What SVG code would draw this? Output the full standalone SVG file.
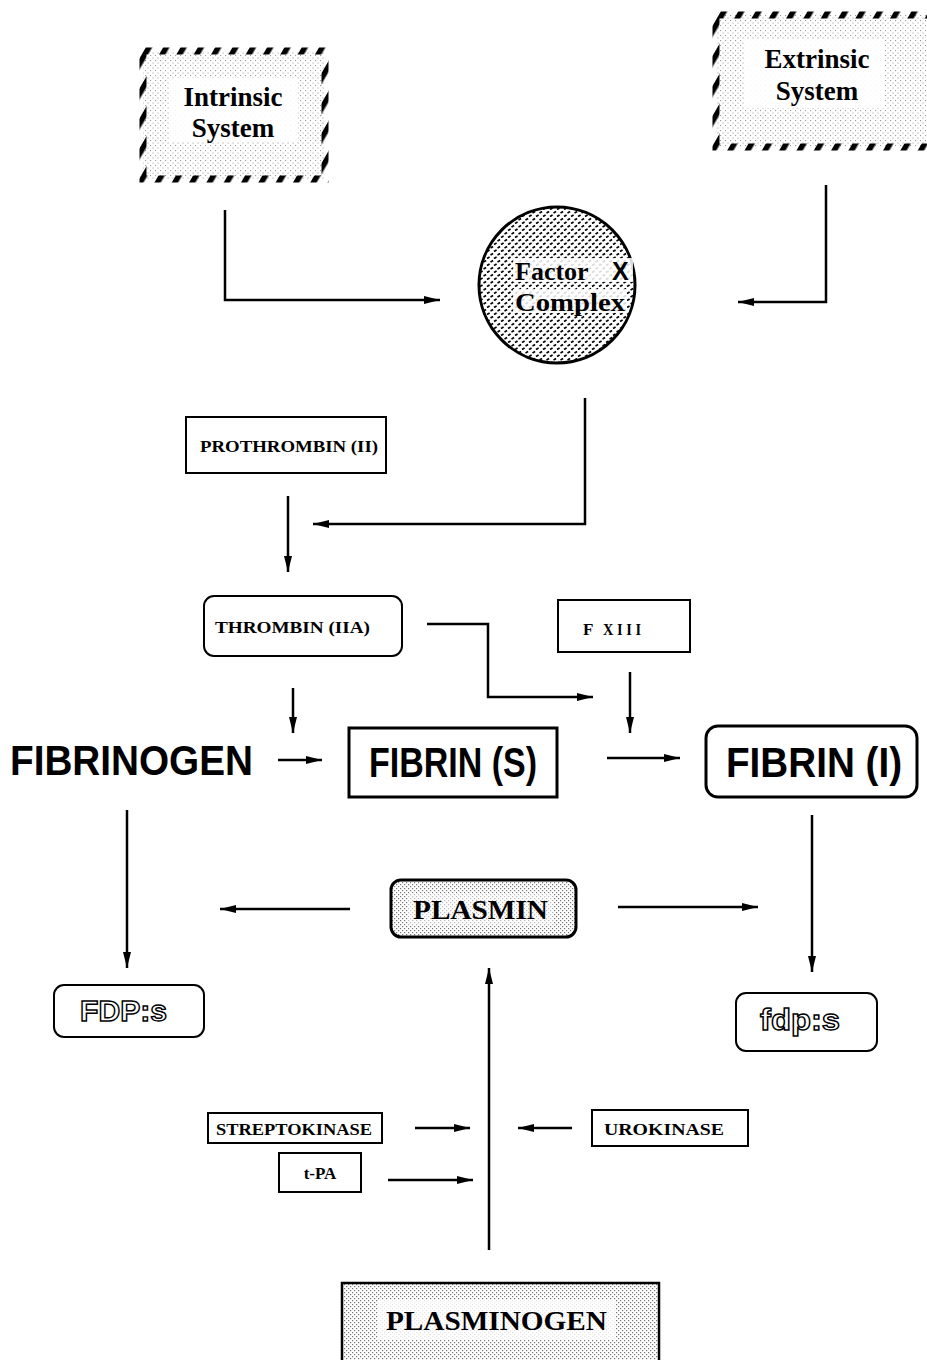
<svg xmlns="http://www.w3.org/2000/svg" width="927" height="1360" viewBox="0 0 927 1360">
<defs>
  <pattern id="dots" width="4" height="4" patternUnits="userSpaceOnUse">
    <rect width="4" height="4" fill="#fff"/>
    <rect x="0" y="0" width="1.2" height="1.2" fill="#777"/>
    <rect x="2" y="2" width="1.2" height="1.2" fill="#777"/>
  </pattern>
  <pattern id="lightdots" width="5" height="5" patternUnits="userSpaceOnUse">
    <rect width="5" height="5" fill="#fff"/>
    <rect x="0" y="0" width="1.1" height="1.1" fill="#999"/>
    <rect x="2.5" y="2.5" width="1.1" height="1.1" fill="#aaa"/>
  </pattern>
  <pattern id="stip" width="7" height="7" patternUnits="userSpaceOnUse">
    <rect width="7" height="7" fill="#fff"/>
    <path d="M0.5 3 l2.6 -1.4 M4 6.5 l2.6 -1.4" stroke="#000" stroke-width="1.7"/>
  </pattern>
  <pattern id="slash" width="15" height="15" patternUnits="userSpaceOnUse" patternTransform="rotate(30)">
    <rect x="0" y="0" width="5.5" height="15" fill="#000"/>
  </pattern>
  <marker id="ah" viewBox="0 0 16 8" refX="16" refY="4" markerWidth="16" markerHeight="8" markerUnits="userSpaceOnUse" orient="auto">
    <path d="M0 0 L16 4 L0 8 Z" fill="#000"/>
  </marker>
  <style>
    .ser{font-family:"Liberation Serif","Times New Roman",serif;font-weight:bold;fill:#000}
    .san{font-family:"Liberation Sans",Arial,sans-serif;font-weight:bold;fill:#000}
    .out{font-family:"Liberation Sans",Arial,sans-serif;font-weight:bold;fill:#fff;stroke:#000;stroke-width:1.4}
    .sm{font-family:"Liberation Serif","Times New Roman",serif;font-weight:bold;fill:#000;font-size:17px}
    .box{fill:#fff;stroke:#000;stroke-width:2}
    .thick{fill:#fff;stroke:#000;stroke-width:3}
    .ln{fill:none;stroke:#000;stroke-width:2.5}
  </style>
</defs>

<g id="intrinsic">
  <rect x="143" y="51" width="182" height="128" fill="url(#lightdots)"/>
  <rect x="170" y="78" width="128" height="64" fill="#fff" opacity="0.9"/>
  <rect x="143" y="51" width="182" height="128" fill="none" stroke="url(#slash)" stroke-width="7"/>
  <text class="ser" x="233" y="106" font-size="27" text-anchor="middle">Intrinsic</text>
  <text class="ser" x="233" y="137" font-size="27" text-anchor="middle">System</text>
</g>

<g id="extrinsic">
  <rect x="716" y="15" width="230" height="132" fill="url(#lightdots)"/>
  <rect x="745" y="40" width="140" height="68" fill="#fff" opacity="0.9"/>
  <rect x="716" y="15" width="230" height="132" fill="none" stroke="url(#slash)" stroke-width="7"/>
  <text class="ser" x="817" y="68" font-size="27" text-anchor="middle">Extrinsic</text>
  <text class="ser" x="817" y="100" font-size="27" text-anchor="middle">System</text>
</g>

<g id="factorx">
  <circle cx="557" cy="285" r="78" fill="url(#stip)" stroke="#000" stroke-width="3"/>
  <rect x="513" y="258" width="120" height="24" fill="#fff" opacity="0.85"/>
  <rect x="513" y="289" width="114" height="24" fill="#fff" opacity="0.85"/>
  <text class="ser" x="515" y="280" font-size="26">Factor</text>
  <text class="san" x="612" y="280" font-size="25">X</text>
  <text class="ser" x="515" y="311" font-size="26" textLength="110" lengthAdjust="spacingAndGlyphs">Complex</text>
</g>

<g id="prothrombin">
  <rect class="box" x="186" y="417" width="200" height="56"/>
  <text class="sm" x="200" y="452" textLength="178" lengthAdjust="spacingAndGlyphs">PROTHROMBIN (II)</text>
</g>

<g id="thrombin">
  <rect class="box" x="204" y="596" width="198" height="60" rx="10"/>
  <text class="sm" x="215" y="633" textLength="155" lengthAdjust="spacingAndGlyphs">THROMBIN (IIA)</text>
</g>

<g id="fxiii">
  <rect class="box" x="558" y="600" width="132" height="52"/>
  <text class="sm" x="583" y="635">F</text>
  <text class="sm" x="603" y="635" textLength="38" lengthAdjust="spacingAndGlyphs">X I I I</text>
</g>

<g id="fibrinogen">
  <text class="san" x="10" y="775" font-size="42" textLength="243" lengthAdjust="spacingAndGlyphs">FIBRINOGEN</text>
</g>

<g id="fibrin_s">
  <rect class="thick" x="349" y="728" width="208" height="69"/>
  <text class="san" x="369" y="777" font-size="42" textLength="168" lengthAdjust="spacingAndGlyphs">FIBRIN (S)</text>
</g>

<g id="fibrin_i">
  <rect class="thick" x="706" y="726" width="211" height="71" rx="12"/>
  <text class="san" x="726" y="777" font-size="42" textLength="176" lengthAdjust="spacingAndGlyphs">FIBRIN (I)</text>
</g>

<g id="plasmin">
  <rect x="391" y="880" width="185" height="57" rx="10" fill="url(#dots)" stroke="#000" stroke-width="3"/>
  <rect x="408" y="893" width="145" height="32" fill="#fff" opacity="0.5"/>
  <text class="ser" x="413" y="919" font-size="27" textLength="135" lengthAdjust="spacingAndGlyphs">PLASMIN</text>
</g>

<g id="fdps_upper">
  <rect class="box" x="54" y="985" width="150" height="52" rx="10"/>
  <text class="out" x="80" y="1021" font-size="29" textLength="87" lengthAdjust="spacingAndGlyphs">FDP:s</text>
</g>

<g id="fdps_lower">
  <rect class="box" x="736" y="993" width="141" height="58" rx="10"/>
  <text class="out" x="760" y="1030" font-size="30" textLength="80" lengthAdjust="spacingAndGlyphs">fdp:s</text>
</g>

<g id="streptokinase">
  <rect class="box" x="208" y="1113" width="174" height="30"/>
  <text class="sm" x="216" y="1135" textLength="156" lengthAdjust="spacingAndGlyphs" font-weight="normal">STREPTOKINASE</text>
</g>

<g id="tpa">
  <rect class="box" x="279" y="1153" width="82" height="39"/>
  <text class="sm" x="320" y="1179" text-anchor="middle" font-weight="normal">t-PA</text>
</g>

<g id="urokinase">
  <rect class="box" x="592" y="1110" width="156" height="36"/>
  <text class="sm" x="604" y="1135" textLength="120" lengthAdjust="spacingAndGlyphs" font-weight="normal">UROKINASE</text>
</g>

<g id="plasminogen">
  <rect x="342" y="1283" width="317" height="90" fill="url(#dots)" stroke="#000" stroke-width="2.5"/>
  <rect x="378" y="1300" width="238" height="40" fill="#fff" opacity="0.8"/>
  <text class="ser" x="386" y="1330" font-size="28" textLength="221" lengthAdjust="spacingAndGlyphs">PLASMINOGEN</text>
</g>

<g id="connectors">
  <polyline class="ln" points="225,210 225,300 440,300" marker-end="url(#ah)"/>
  <polyline class="ln" points="826,185 826,302 738,302" marker-end="url(#ah)"/>
  <polyline class="ln" points="585,398 585,524 313,524" marker-end="url(#ah)"/>
  <line class="ln" x1="288" y1="496" x2="288" y2="572" marker-end="url(#ah)"/>
  <polyline class="ln" points="427,624 488,624 488,697 593,697" marker-end="url(#ah)"/>
  <line class="ln" x1="293" y1="688" x2="293" y2="733" marker-end="url(#ah)"/>
  <line class="ln" x1="630" y1="672" x2="630" y2="733" marker-end="url(#ah)"/>
  <line class="ln" x1="278" y1="760" x2="322" y2="760" marker-end="url(#ah)"/>
  <line class="ln" x1="607" y1="758" x2="680" y2="758" marker-end="url(#ah)"/>
  <line class="ln" x1="127" y1="810" x2="127" y2="968" marker-end="url(#ah)"/>
  <line class="ln" x1="812" y1="815" x2="812" y2="972" marker-end="url(#ah)"/>
  <line class="ln" x1="350" y1="909" x2="220" y2="909" marker-end="url(#ah)"/>
  <line class="ln" x1="618" y1="907" x2="758" y2="907" marker-end="url(#ah)"/>
  <line class="ln" x1="489" y1="1250" x2="489" y2="968" marker-end="url(#ah)"/>
  <line class="ln" x1="415" y1="1128" x2="470" y2="1128" marker-end="url(#ah)"/>
  <line class="ln" x1="388" y1="1180" x2="473" y2="1180" marker-end="url(#ah)"/>
  <line class="ln" x1="572" y1="1128" x2="518" y2="1128" marker-end="url(#ah)"/>
</g>
</svg>
